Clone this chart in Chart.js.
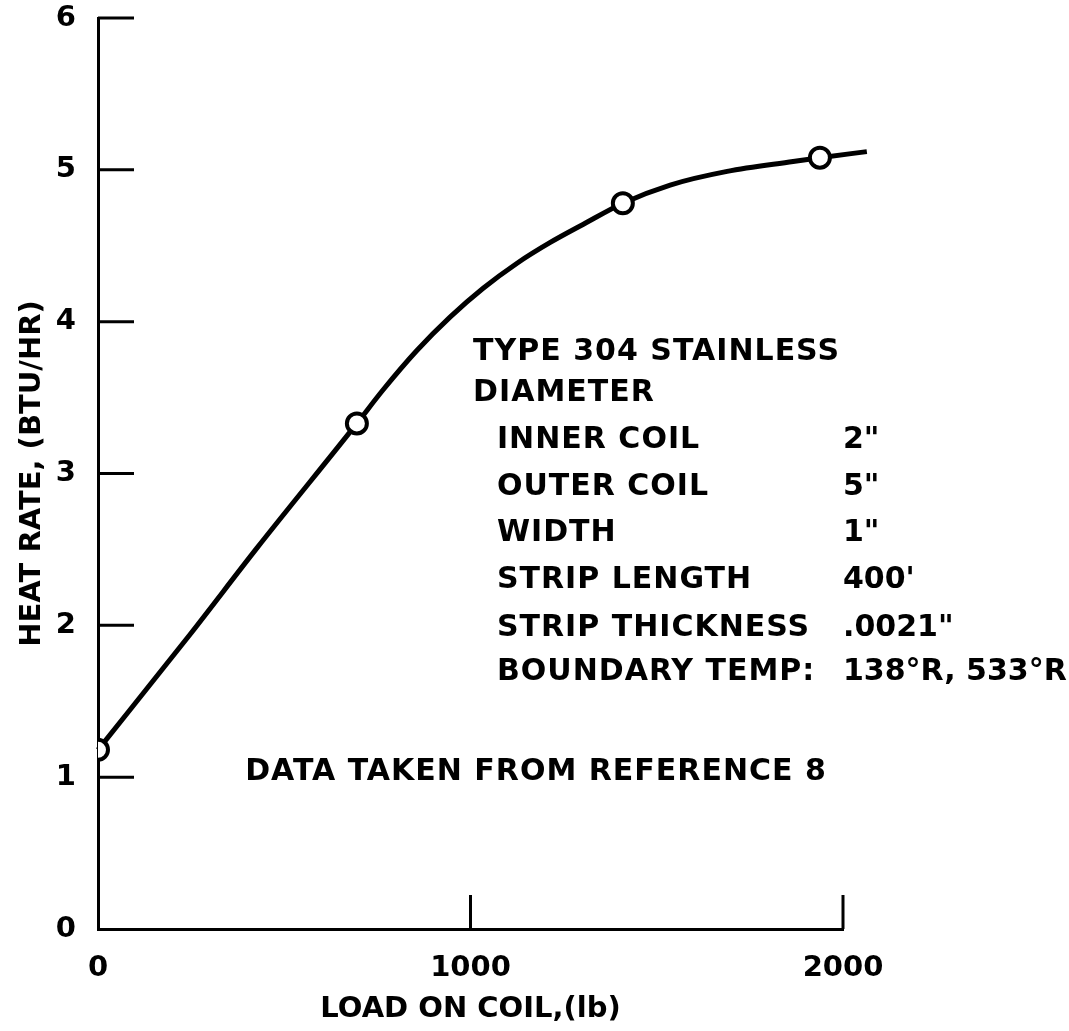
<!DOCTYPE html>
<html lang="en">
<head>
  <meta charset="utf-8">
  <title>Heat rate vs load on coil</title>
  <script src="https://cdn.jsdelivr.net/npm/chart.js@4.4.0/dist/chart.umd.min.js"></script>
  <style>
    html, body { margin: 0; padding: 0; background: #fff; }
    #chart { display: block; }
  </style>
</head>
<body>
<canvas id="chart" width="1069" height="1031"></canvas>
<script>
// measured points (circles)
var loadPts = [0, 695, 1409, 1938];
var heatPts = [1.18, 3.33, 4.78, 5.08];

// faired curve
var curveLoad = [0, 247, 427, 695, 765, 856, 945, 1034, 1125, 1213, 1302, 1409, 1536, 1689, 1866, 1938, 2064];
var curveHeat = [1.18, 1.94, 2.51, 3.33, 3.55, 3.81, 4.03, 4.22, 4.385, 4.52, 4.64, 4.78, 4.90, 4.99, 5.055, 5.08, 5.12];

var xTicks = [0, 1000, 2000];
var yTicks = [0, 1, 2, 3, 4, 5, 6];

var noteHead = ["TYPE 304 STAINLESS", "DIAMETER"];
var noteNames = ["INNER COIL", "OUTER COIL", "WIDTH", "STRIP LENGTH", "STRIP THICKNESS", "BOUNDARY TEMP:"];
var noteValues = ["2\"", "5\"", "1\"", "400'", ".0021\"", "138\u00B0R, 533\u00B0R"];
var sourceNote = "DATA TAKEN FROM REFERENCE 8";

var FONT = "DejaVu Sans";

function toXY(xs, ys) {
  var out = [];
  for (var i = 0; i < xs.length; i++) out.push({x: xs[i], y: ys[i]});
  return out;
}

// tick marks point inward in the original, so draw them ourselves
var innerTicks = {
  id: 'innerTicks',
  afterDatasetsDraw: function(chart) {
    var ctx = chart.ctx, xs = chart.scales.x, ys = chart.scales.y;
    var a = chart.chartArea;
    ctx.save();
    ctx.strokeStyle = '#000';
    ctx.lineWidth = 3;
    ctx.beginPath();
    yTicks.forEach(function(v) {
      if (v === 0) return;
      var py = ys.getPixelForValue(v);
      ctx.moveTo(a.left, py);
      ctx.lineTo(a.left + 36, py);
    });
    xTicks.forEach(function(v) {
      if (v === 0) return;
      var px = xs.getPixelForValue(v);
      ctx.moveTo(px, a.bottom);
      ctx.lineTo(px, a.bottom - 34);
    });
    ctx.stroke();
    ctx.restore();
  }
};

var notes = {
  id: 'notes',
  afterDraw: function(chart) {
    var ctx = chart.ctx, xs = chart.scales.x, ys = chart.scales.y;
    ctx.save();
    ctx.fillStyle = '#000';
    ctx.font = 'bold 30px "' + FONT + '"';
    ctx.letterSpacing = '1px';
    ctx.textBaseline = 'middle';
    ctx.textAlign = 'left';
    var headY = [3.80, 3.53];
    noteHead.forEach(function(t, i) {
      ctx.fillText(t, xs.getPixelForValue(1007), ys.getPixelForValue(headY[i]));
    });
    var rowY = [3.22, 2.91, 2.61, 2.30, 1.98, 1.69];
    noteNames.forEach(function(t, i) {
      ctx.fillText(t, xs.getPixelForValue(1071), ys.getPixelForValue(rowY[i]));
    });
    ctx.fillText(sourceNote, xs.getPixelForValue(395), ys.getPixelForValue(1.03));
    ctx.letterSpacing = '0px';
    noteValues.forEach(function(t, i) {
      ctx.fillText(t, xs.getPixelForValue(2000), ys.getPixelForValue(rowY[i]));
    });
    ctx.restore();
  }
};

Chart.defaults.font.family = FONT;
Chart.defaults.font.weight = 'bold';
Chart.defaults.font.size = 28;
Chart.defaults.color = '#000';

function plainTick(v) { return String(v); }

new Chart(document.getElementById('chart'), {
  type: 'scatter',
  data: {
    datasets: [{
      data: toXY(loadPts, heatPts),
      order: 0,
      pointRadius: 10,
      pointBorderWidth: 4,
      pointBorderColor: '#000',
      pointBackgroundColor: '#fff',
      showLine: false
    }, {
      data: toXY(curveLoad, curveHeat),
      order: 1,
      showLine: true,
      borderColor: '#000',
      borderWidth: 5,
      pointRadius: 0,
      cubicInterpolationMode: 'monotone',
      clip: false
    }]
  },
  options: {
    responsive: false,
    animation: false,
    layout: { padding: { left: 0, top: 18, right: 226, bottom: 0 } },
    plugins: { legend: { display: false }, tooltip: { enabled: false } },
    scales: {
      x: {
        type: 'linear',
        min: 0, max: 2000,
        afterFit: function(s) { s.height = 102; s.paddingLeft = 0; s.paddingRight = 0; },
        afterBuildTicks: function(s) { s.ticks = xTicks.map(function(v) { return {value: v}; }); },
        grid: { display: false, drawTicks: false },
        border: { display: true, color: '#000', width: 3 },
        ticks: { padding: 22, font: { size: 29 }, maxRotation: 0, callback: plainTick },
        title: { display: true, text: 'LOAD ON COIL,(lb)', font: { size: 29 }, padding: { top: 0, bottom: 4 } }
      },
      y: {
        type: 'linear',
        min: 0, max: 6,
        afterFit: function(s) { s.width = 98; s.paddingTop = 0; s.paddingBottom = 0; },
        afterBuildTicks: function(s) { s.ticks = yTicks.map(function(v) { return {value: v}; }); },
        grid: { display: false, drawTicks: false },
        border: { display: true, color: '#000', width: 3 },
        ticks: { padding: 22, font: { size: 29 }, callback: plainTick },
        title: { display: true, text: 'HEAT RATE, (BTU/HR)', font: { size: 29 }, padding: { top: 15, bottom: 0 } }
      }
    }
  },
  plugins: [innerTicks, notes]
});
</script>
</body>
</html>
